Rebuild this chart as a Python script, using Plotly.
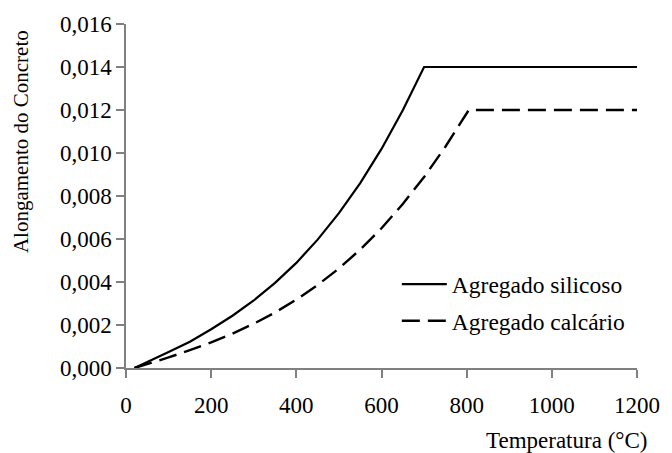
import plotly.graph_objects as go

# Temperature (°C) and elongation values
temp_sil = [20, 50, 100, 150, 200, 250, 300, 350, 400, 450, 500, 550, 600, 650, 700, 1200]
elong_sil = [0.0000, 0.00027, 0.00074, 0.00122, 0.00180, 0.00243, 0.00314, 0.00396, 0.00489,
             0.00597, 0.00720, 0.00860, 0.01019, 0.01199, 0.01400, 0.01400]

temp_cal = [20, 50, 100, 150, 200, 250, 300, 350, 400, 450, 500, 550, 600, 650, 700, 750, 805, 1200]
elong_cal = [0.0000, 0.00018, 0.00049, 0.00083, 0.00119, 0.00160, 0.00206, 0.00258, 0.00318,
             0.00386, 0.00463, 0.00551, 0.00650, 0.00763, 0.00888, 0.01029, 0.01200, 0.01200]

name_sil = "Agregado silicoso"
name_cal = "Agregado calcário"
x_title = "Temperatura (°C)"
y_title = "Alongamento do Concreto"

FONT = "Liberation Serif"
AX = "#808080"

fig = go.Figure()
fig.add_trace(go.Scatter(x=temp_sil, y=elong_sil, mode="lines", name=name_sil,
                         legendgroup="a",
                         line=dict(color="black", width=2.2)))
fig.add_trace(go.Scatter(x=temp_cal, y=elong_cal, mode="lines", name=name_cal,
                         legendgroup="b",
                         line=dict(color="black", width=2.4, dash="18px,8px")))

fig.update_layout(
    width=672, height=453,
    margin=dict(l=126, r=26, t=22, b=85),
    paper_bgcolor="white", plot_bgcolor="white",
    separators=",.",
    font=dict(family=FONT, size=23, color="black"),
    showlegend=True,
    legend=dict(x=0.530, y=0.307, xanchor="left", yanchor="top",
                bgcolor="rgba(0,0,0,0)", font=dict(family=FONT, size=23.5),
                traceorder="grouped", tracegroupgap=3, itemwidth=45),
    xaxis=dict(range=[0, 1200], tickvals=[0, 200, 400, 600, 800, 1000, 1200],
               showline=True, linecolor=AX, linewidth=1.5, showgrid=False, zeroline=False,
               ticks="outside", ticklen=8, tickcolor=AX, tickwidth=1.5,
               tickfont=dict(family=FONT, size=23), ticklabelstandoff=8),
    yaxis=dict(range=[0, 0.016], tickvals=[0, 0.002, 0.004, 0.006, 0.008, 0.010, 0.012, 0.014, 0.016],
               tickformat=".3f", ticksuffix="\u00a0\u00a0\u00a0\u2009",
               showline=True, linecolor=AX, linewidth=1.5, showgrid=False, zeroline=False,
               ticks="outside", ticklen=8, tickcolor=AX, tickwidth=1.5,
               tickfont=dict(family=FONT, size=23)),
    annotations=[
        dict(text=x_title, xref="paper", yref="paper", x=1.023, y=-0.211, xanchor="right",
             yanchor="middle", showarrow=False, font=dict(family=FONT, size=23)),
        dict(text=y_title, xref="paper", yref="paper", x=-0.204, y=0.659, xanchor="center",
             yanchor="middle", textangle=-90, showarrow=False, font=dict(family=FONT, size=21)),
    ],
)

fig.write_html("out.html")
